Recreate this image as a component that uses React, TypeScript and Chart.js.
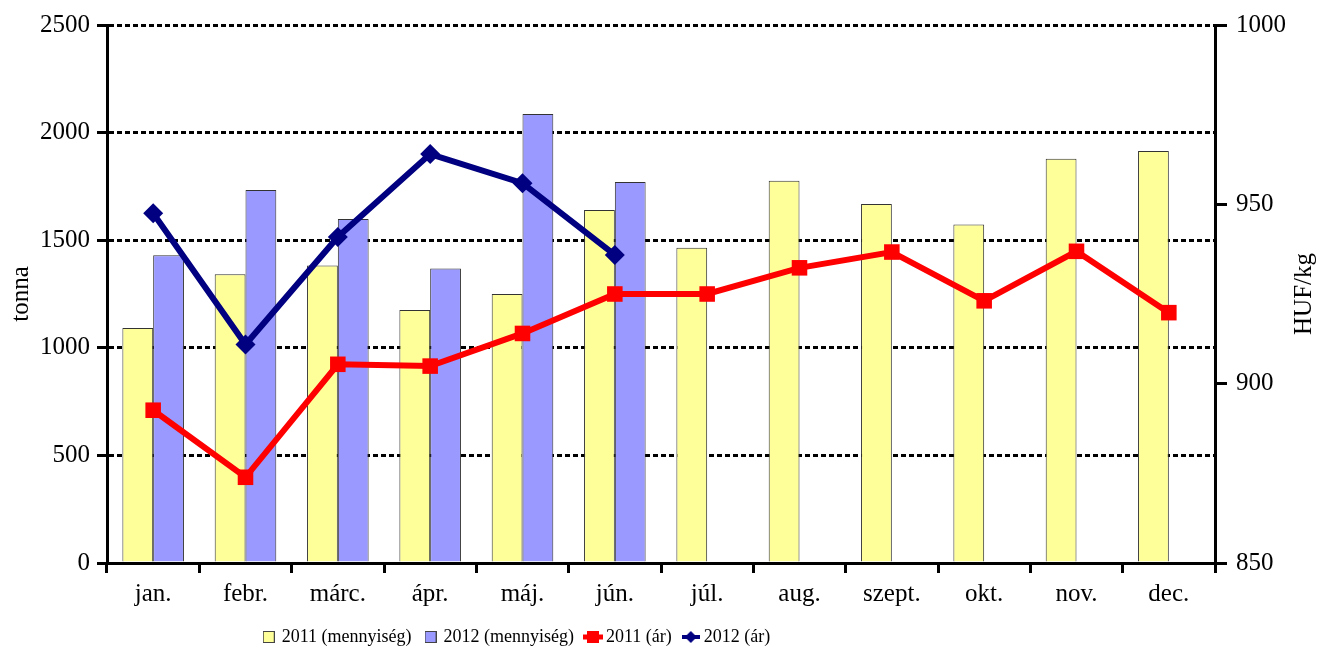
import { useEffect, useRef } from "react";
import { Chart, registerables } from "chart.js";

Chart.register(...registerables);

const months = ["jan.", "febr.", "márc.", "ápr.", "máj.", "jún.", "júl.", "aug.", "szept.", "okt.", "nov.", "dec."];
const qty2011 = [1092, 1342, 1383, 1176, 1250, 1640, 1465, 1776, 1668, 1573, 1878, 1914];
const qty2012 = [1430, 1733, 1599, 1369, 2087, 1770, null, null, null, null, null, null];
const price2011 = [892.6, 873.9, 905.4, 904.9, 914.0, 925.0, 925.0, 932.3, 936.7, 923.1, 936.9, 919.8];
const price2012 = [947.5, 910.9, 940.9, 964.0, 955.9, 935.9, null, null, null, null, null, null];
const leftTicks = [0, 500, 1000, 1500, 2000, 2500];
const rightTicks = [850, 900, 950, 1000];
const seriesLabels = ["2011 (mennyiség)", "2012 (mennyiség)", "2011 (ár)", "2012 (ár)"];
const leftTitle = "tonna";
const rightTitle = "HUF/kg";

const FONT = "'Liberation Serif', 'Times New Roman', serif";
const YELLOW = "#FFFF99";
const BLUE = "#9999FF";
const RED = "#FF0000";
const NAVY = "#000080";

function boxIcon(fill: string) {
  const c = document.createElement("canvas");
  c.width = 12;
  c.height = 12;
  const g = c.getContext("2d")!;
  g.fillStyle = fill;
  g.fillRect(0, 0, 12, 12);
  g.strokeStyle = "#444";
  g.lineWidth = 1;
  g.strokeRect(0.5, 0.5, 11, 11);
  return c;
}

function lineIcon(color: string, diamond: boolean) {
  const w = diamond ? 18 : 20;
  const c = document.createElement("canvas");
  c.width = w;
  c.height = 14;
  const g = c.getContext("2d")!;
  g.fillStyle = color;
  g.fillRect(0, diamond ? 5 : 4.5, w, diamond ? 4 : 5);
  if (diamond) {
    g.beginPath();
    g.moveTo(w / 2, 1);
    g.lineTo(w / 2 + 6, 7);
    g.lineTo(w / 2, 13);
    g.lineTo(w / 2 - 6, 7);
    g.closePath();
    g.fill();
  } else {
    g.fillRect(w / 2 - 6, 1, 12, 12);
  }
  return c;
}

const plain = (v: any) => String(v);

export default function App() {
  const ref = useRef<HTMLCanvasElement | null>(null);

  useEffect(() => {
    if (!ref.current) return;
    Chart.defaults.font.family = FONT;
    Chart.defaults.color = "#000";

    const icons = [boxIcon(YELLOW), boxIcon(BLUE), lineIcon(RED, false), lineIcon(NAVY, true)];

    const legendShift = {
      id: "legendShift",
      afterLayout(chart: any) {
        const l = chart.legend;
        if (!l) return;
        l.left -= 142;
        l.right -= 142;
        l.top -= 20;
        l.bottom -= 20;
      },
    };

    const rightTitlePlugin = {
      id: "rightTitle",
      afterDraw(chart: any) {
        const { ctx, chartArea } = chart;
        const s = chart.scales.y1;
        ctx.save();
        ctx.font = `25px ${FONT}`;
        ctx.fillStyle = "#000";
        ctx.textAlign = "center";
        ctx.textBaseline = "middle";
        ctx.translate(s.right - 15, (chartArea.top + chartArea.bottom) / 2);
        ctx.rotate(-Math.PI / 2);
        ctx.fillText(rightTitle, 0, 0);
        ctx.restore();
      },
    };

    const chart = new Chart(ref.current, {
      type: "bar",
      data: {
        labels: months,
        datasets: [
          {
            type: "bar",
            label: seriesLabels[0],
            data: qty2011,
            backgroundColor: YELLOW,
            borderColor: "#333",
            borderWidth: 1,
            categoryPercentage: 0.667,
            barPercentage: 1.0,
            yAxisID: "y",
            order: 2,
          },
          {
            type: "bar",
            label: seriesLabels[1],
            data: qty2012,
            backgroundColor: BLUE,
            borderColor: "#333",
            borderWidth: 1,
            categoryPercentage: 0.667,
            barPercentage: 1.0,
            yAxisID: "y",
            order: 2,
          },
          {
            type: "line",
            label: seriesLabels[2],
            data: price2011,
            borderColor: RED,
            backgroundColor: RED,
            borderWidth: 6,
            pointStyle: "rect",
            pointRadius: 11,
            pointBackgroundColor: RED,
            pointBorderColor: RED,
            pointBorderWidth: 0,
            tension: 0,
            yAxisID: "y1",
            order: 1,
          },
          {
            type: "line",
            label: seriesLabels[3],
            data: price2012,
            borderColor: NAVY,
            backgroundColor: NAVY,
            borderWidth: 6,
            pointStyle: "rectRot",
            pointRadius: 10,
            pointBackgroundColor: NAVY,
            pointBorderColor: NAVY,
            pointBorderWidth: 0,
            tension: 0,
            yAxisID: "y1",
            order: 0,
          },
        ],
      } as any,
      options: {
        animation: false,
        responsive: false,
        layout: { padding: { top: 25, left: 0, right: 0, bottom: -30 } },
        scales: {
          x: {
            offset: true,
            grid: {
              offset: true,
              drawOnChartArea: false,
              drawTicks: true,
              tickLength: 10,
              tickWidth: 3,
              tickColor: "#000",
              color: "#000",
              lineWidth: 3,
            },
            border: { display: true, color: "#000", width: 3 },
            ticks: { font: { size: 25 }, color: "#000", padding: 6, maxRotation: 0, autoSkip: false },
            afterFit: (s: any) => {
              s.height = 70;
            },
          },
          y: {
            position: "left",
            min: 0,
            max: 2500,
            afterBuildTicks: (s: any) => {
              s.ticks = leftTicks.map((v) => ({ value: v }));
            },
            ticks: { font: { size: 25 }, color: "#000", padding: 7, callback: plain },
            grid: {
              color: "#000",
              lineWidth: 3,
              tickLength: 10,
              tickWidth: 3,
              tickColor: "#000",
              tickBorderDash: [],
            },
            border: { color: "#000", width: 3, dash: [5, 3] },
            title: {
              display: true,
              text: leftTitle,
              font: { size: 25 },
              color: "#000",
              padding: { top: 6, bottom: 0 },
            },
            afterFit: (s: any) => {
              s.width = 107;
            },
          },
          y1: {
            position: "right",
            min: 850,
            max: 1000,
            afterBuildTicks: (s: any) => {
              s.ticks = rightTicks.map((v) => ({ value: v }));
            },
            ticks: { font: { size: 25 }, color: "#000", padding: 9, callback: plain },
            grid: {
              drawOnChartArea: false,
              tickLength: 12,
              tickWidth: 3,
              tickColor: "#000",
              color: "#000",
            },
            border: { color: "#000", width: 3 },
            afterFit: (s: any) => {
              s.width = 104;
            },
          },
        },
        plugins: {
          tooltip: { enabled: false },
          legend: {
            position: "bottom",
            labels: {
              usePointStyle: true,
              pointStyleWidth: 8,
              boxHeight: 12,
              padding: 15,
              font: { size: 18 },
              color: "#000",
              generateLabels: (ch: any) =>
                ch.data.datasets.map((ds: any, i: number) => ({
                  text: ds.label,
                  pointStyle: icons[i],
                  datasetIndex: i,
                  hidden: false,
                  lineWidth: 0,
                  fillStyle: "transparent",
                  strokeStyle: "transparent",
                  fontColor: "#000",
                })),
            },
          },
        },
      } as any,
      plugins: [legendShift, rightTitlePlugin],
    });

    return () => chart.destroy();
  }, []);

  return (
    <canvas
      ref={ref}
      width={1319}
      height={646}
      style={{ position: "fixed", left: 0, top: 0, display: "block", background: "#fff" }}
    />
  );
}
